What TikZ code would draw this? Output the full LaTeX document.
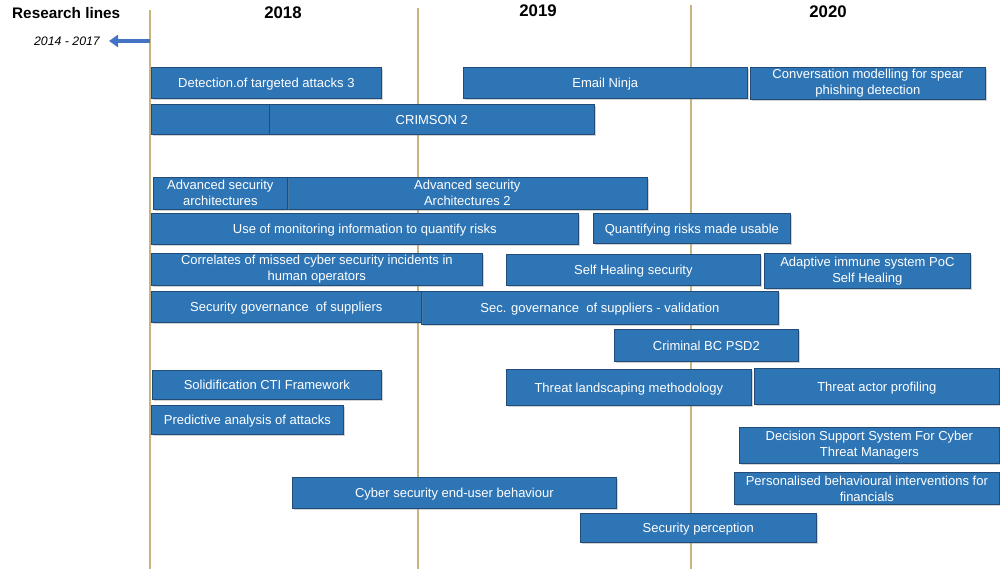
\documentclass[tikz,border=0pt]{standalone}
\usepackage{fontspec}
\setmainfont{Liberation Sans}
\usetikzlibrary{shadows,arrows.meta}
\definecolor{boxblue}{RGB}{46,117,182}
\definecolor{boxedge}{RGB}{35,75,120}
\definecolor{yearline}{RGB}{200,180,125}
\definecolor{arrowblue}{RGB}{68,114,196}
\tikzset{
  rbox/.style={draw=boxedge, line width=0.7pt, fill=boxblue, text=white, inner sep=0pt,
    align=center, anchor=north west, font=\fontsize{13}{16}\selectfont,
    drop shadow={shadow xshift=1.5pt, shadow yshift=-1.5pt, opacity=0.35}},
  oneline/.style={text height=9.6pt, text depth=0pt},
  yline/.style={draw=yearline, line width=1.4pt},
  yearlbl/.style={font=\bfseries\fontsize{16.8}{19}\selectfont},
}
\newcommand{\bx}[6]{\node[rbox, oneline, minimum width=#4pt-#2pt, minimum height=#5pt-#3pt] (#1) at (#2,#3) {#6};}
\newcommand{\bxx}[6]{\node[rbox, minimum width=#4pt-#2pt, minimum height=#5pt-#3pt] (#1) at (#2,#3) {#6};}
\begin{document}
\begin{tikzpicture}[x=1pt,y=-1pt]
\useasboundingbox (0,0) rectangle (1000,569);
% year lines
\coordinate (l1t) at (150,10); \coordinate (l1b) at (150,569);
\coordinate (l2t) at (418,8); \coordinate (l2b) at (418,569);
\coordinate (l3t) at (691,5); \coordinate (l3b) at (691,569);
\draw[yline] (l1t) -- (l1b);
\draw[yline] (l2t) -- (l2b);
\draw[yline] (l3t) -- (l3b);
% headers
\node[font=\bfseries\fontsize{15.3}{18}\selectfont, anchor=west, inner sep=0pt] (rl) at (12,13) {Research lines};
\node[yearlbl] (y18) at (283,13) {2018};
\node[yearlbl] (y19) at (538,11) {2019};
\node[yearlbl] (y20) at (828,12) {2020};
\node[font=\itshape\fontsize{12.3}{14}\selectfont, anchor=east, inner sep=0pt] (past) at (100,41) {2014 - 2017};
\coordinate (arS) at (150,41); \coordinate (arE) at (109,41);
\draw[arrowblue, line width=4pt, -{Triangle[length=9pt,width=12pt]}] (arS) -- (arE);
% boxes
\bx{b1}{151}{67}{381}{98}{Detection.of targeted attacks 3}
\bx{b2}{463}{67}{747}{98}{Email Ninja}
\bxx{b3}{750}{67}{985}{99}{Conversation modelling for spear\\phishing detection}
\bx{b4a}{151}{104}{269}{134}{}
\bx{b4}{269}{104}{594}{134}{CRIMSON 2}
\bxx{b5}{287}{177}{647}{209}{Advanced security\\Architectures 2}
\bxx{b5a}{153}{177}{287}{209}{Advanced security\\architectures}
\bx{b6}{151}{213}{578}{244}{Use of monitoring information to quantify risks}
\bx{b7}{593}{213}{790}{243}{Quantifying risks made usable}
\bxx{b8}{151}{253}{482}{285}{Correlates of missed cyber security incidents in\\human operators}
\bx{b9}{506}{254}{760}{285}{Self Healing security}
\bxx{b10}{764}{253}{970}{288}{Adaptive immune system PoC\\Self Healing}
\bx{b12}{421}{291}{778}{324}{Sec. governance\ \ of suppliers - validation}
\bx{b11}{151}{291}{421}{322}{Security governance\ \ of suppliers}
\bx{b13}{614}{329}{798}{361}{Criminal BC PSD2}
\bx{b14}{152}{370}{381}{399}{Solidification CTI Framework}
\bx{b15}{506}{369}{751}{405}{Threat landscaping methodology}
\bx{b16}{754}{368}{999}{404}{Threat actor profiling}
\bx{b17}{151}{405}{343}{434}{Predictive analysis of attacks}
\bxx{b18}{739}{427}{999}{463}{Decision Support System For Cyber\\Threat Managers}
\bxx{b19}{734}{472}{999}{504}{Personalised behavioural interventions for\\financials}
\bx{b20}{292}{477}{616}{508}{Cyber security end-user behaviour}
\bx{b21}{580}{513}{816}{542}{Security perception}
\end{tikzpicture}
\end{document}
